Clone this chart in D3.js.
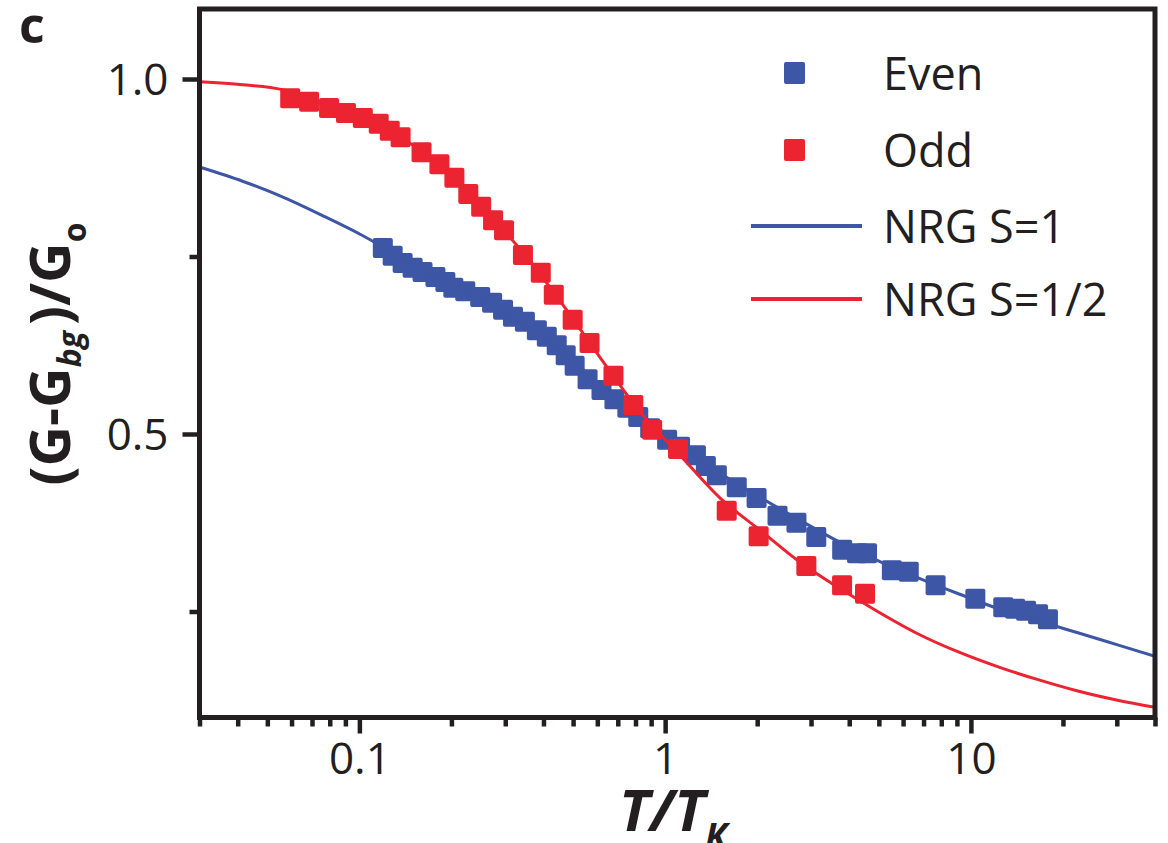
<!DOCTYPE html>
<html>
<head>
<meta charset="utf-8">
<script src="https://cdn.jsdelivr.net/npm/d3@7"></script>
<style>
  html, body { margin: 0; padding: 0; background: #fff; }
  svg text { font-family: "Open Sans", "Noto Sans", sans-serif; fill: #231f20; }
</style>
</head>
<body>
<svg id="chart" width="1168" height="843"></svg>
<script>
// Measured conductance vs. reduced temperature, even and odd electron occupancy
const evenT = [0.1193, 0.1285, 0.1385, 0.1493, 0.1609, 0.1773, 0.1911, 0.2029, 0.222, 0.2484,
  0.2717, 0.2951, 0.3179, 0.3478, 0.3806, 0.4102, 0.442, 0.4729, 0.5059, 0.5576,
  0.6193, 0.6826, 0.7524, 0.8168, 0.8936, 1.015, 1.119, 1.261, 1.359, 1.476,
  1.715, 1.991, 2.331, 2.688, 3.121, 3.793, 4.243, 4.573, 5.514, 6.262,
  7.665, 10.34, 12.76, 13.95, 15.15, 16.58, 17.86];
const evenG = [0.762, 0.751, 0.741, 0.734, 0.728, 0.721, 0.714, 0.706, 0.701, 0.693,
  0.685, 0.675, 0.665, 0.658, 0.646, 0.637, 0.625, 0.611, 0.596, 0.577,
  0.562, 0.549, 0.537, 0.524, 0.508, 0.492, 0.482, 0.470, 0.455, 0.442,
  0.425, 0.410, 0.385, 0.375, 0.355, 0.337, 0.332, 0.332, 0.308, 0.306,
  0.287, 0.268, 0.256, 0.254, 0.251, 0.246, 0.239];

const oddT = [0.0594, 0.0685, 0.0796, 0.0904, 0.1026, 0.1157, 0.1257, 0.1364, 0.1597, 0.1827,
  0.2045, 0.2271, 0.2502, 0.2737, 0.2973, 0.3427, 0.392, 0.4323, 0.4985, 0.566,
  0.6776, 0.787, 0.907, 1.102, 1.59, 2.022, 2.896, 3.79, 4.505];
const oddG = [0.973, 0.968, 0.959, 0.952, 0.945, 0.937, 0.927, 0.918, 0.897, 0.880,
  0.861, 0.838, 0.820, 0.801, 0.787, 0.752, 0.727, 0.696, 0.661, 0.628,
  0.582, 0.541, 0.506, 0.479, 0.392, 0.356, 0.314, 0.287, 0.275];

// NRG curves on a shared temperature grid
const nrgT = [0.03, 0.0415, 0.056, 0.0755, 0.102, 0.1375, 0.1854, 0.25, 0.3377, 0.4556,
  0.6146, 0.8293, 1.119, 1.51, 2.037, 2.748, 3.707, 5.0, 6.75, 9.1,
  12.28, 16.58, 22.37, 30.18, 40];
const nrgS1 = [0.876, 0.856, 0.834, 0.808, 0.780, 0.748, 0.717, 0.689, 0.656, 0.618,
  0.569, 0.528, 0.485, 0.445, 0.411, 0.379, 0.348, 0.321, 0.297, 0.275,
  0.254, 0.237, 0.220, 0.203, 0.187];
const nrgHalf = [0.996, 0.992, 0.985, 0.965, 0.945, 0.917, 0.877, 0.820, 0.759, 0.686,
  0.607, 0.531, 0.470, 0.410, 0.365, 0.320, 0.283, 0.249, 0.218, 0.193,
  0.172, 0.154, 0.138, 0.125, 0.115];

// Axis ticks
const xMajorTicks = [0.1, 1, 10];
const xMajorLabels = ["0.1", "1", "10"];
const xMinorTicks = [0.03, 0.04, 0.05, 0.06, 0.07, 0.08, 0.09,
  0.2, 0.3, 0.4, 0.5, 0.6, 0.7, 0.8, 0.9,
  2, 3, 4, 5, 6, 7, 8, 9, 20, 30, 40];
const yMajorTicks = [0.5, 1.0];
const yMajorLabels = ["0.5", "1.0"];
const yMinorTicks = [0.25, 0.75];

const legendLabels = ["Even", "Odd", "NRG S=1", "NRG S=1/2"];

const BLUE = "#3d56a5";
const RED = "#ec2330";
const INK = "#231f20";

const svg = d3.select("#chart");
const frameL = 199.5, frameR = 1155, frameT = 9, frameB = 717.5;

const x = d3.scaleLog().domain([0.03, 40]).range([frameL, frameR]);
const y = d3.scaleLinear().domain([0.1, 1.1]).range([718, 8]);

svg.append("defs").append("clipPath").attr("id", "plotClip")
  .append("rect").attr("x", frameL).attr("y", frameT)
  .attr("width", frameR - frameL).attr("height", frameB - frameT);

const plot = svg.append("g").attr("clip-path", "url(#plotClip)");

const line = d3.line()
  .x(d => x(d[0]))
  .y(d => y(d[1]))
  .curve(d3.curveMonotoneX);

const SQ = 20;
function squares(T, G, color) {
  plot.append("g").selectAll("rect")
    .data(d3.zip(T, G))
    .join("rect")
    .attr("x", d => x(d[0]) - SQ / 2)
    .attr("y", d => y(d[1]) - SQ / 2)
    .attr("width", SQ).attr("height", SQ)
    .attr("rx", 2)
    .attr("fill", color);
}

squares(evenT, evenG, BLUE);
plot.append("path").datum(d3.zip(nrgT, nrgS1))
  .attr("d", line).attr("fill", "none").attr("stroke", BLUE).attr("stroke-width", 3);
squares(oddT, oddG, RED);
plot.append("path").datum(d3.zip(nrgT, nrgHalf))
  .attr("d", line).attr("fill", "none").attr("stroke", RED).attr("stroke-width", 3);

// X axis ticks and labels
const xAxisMinor = d3.axisBottom(x).tickValues(xMinorTicks).tickSize(9).tickFormat("");
const xAxisMajor = d3.axisBottom(x).tickValues(xMajorTicks).tickSize(16)
  .tickFormat((d, i) => xMajorLabels[i]);
[xAxisMinor, xAxisMajor].forEach(ax => {
  const g = svg.append("g").attr("transform", `translate(0,${frameB})`).call(ax);
  g.select(".domain").remove();
  g.selectAll(".tick line").attr("stroke", INK).attr("stroke-width", 4.5);
  g.selectAll(".tick text").attr("font-size", 44)
    .attr("dy", null).attr("y", 56).attr("fill", INK);
});

// Y axis ticks and labels
const yAxisMinor = d3.axisLeft(y).tickValues(yMinorTicks).tickSize(10).tickFormat("");
const yAxisMajor = d3.axisLeft(y).tickValues(yMajorTicks).tickSize(17)
  .tickFormat((d, i) => yMajorLabels[i]).tickPadding(14);
[yAxisMinor, yAxisMajor].forEach(ax => {
  const g = svg.append("g").attr("transform", `translate(${frameL},0)`).call(ax);
  g.select(".domain").remove();
  g.selectAll(".tick line").attr("stroke", INK).attr("stroke-width", 4.5);
  g.selectAll(".tick text").attr("font-size", 44)
    .attr("dy", "0.36em").attr("fill", INK);
});
svg.selectAll("g[font-family]").attr("font-family", null);

// Frame
svg.append("rect")
  .attr("x", frameL).attr("y", frameT)
  .attr("width", frameR - frameL).attr("height", frameB - frameT)
  .attr("fill", "none").attr("stroke", INK).attr("stroke-width", 5);

// Legend
const legend = svg.append("g");
const legendRows = [
  { label: legendLabels[0], color: BLUE, kind: "square", cy: 73 },
  { label: legendLabels[1], color: RED, kind: "square", cy: 150 },
  { label: legendLabels[2], color: BLUE, kind: "line", cy: 226 },
  { label: legendLabels[3], color: RED, kind: "line", cy: 299 }
];
legendRows.forEach(r => {
  if (r.kind === "square") {
    legend.append("rect").attr("x", 784).attr("y", r.cy - 11).attr("width", 21).attr("height", 22)
      .attr("rx", 2).attr("fill", r.color);
  } else {
    legend.append("line").attr("x1", 751).attr("x2", 862).attr("y1", r.cy).attr("y2", r.cy)
      .attr("stroke", r.color).attr("stroke-width", 4);
  }
  legend.append("text").attr("x", 883).attr("y", r.cy + 17)
    .attr("font-size", 45).text(r.label);
});

// Panel letter
svg.append("text").attr("x", 19).attr("y", 43)
  .attr("font-size", 50).attr("font-weight", "bold").text("c");

// X axis title
const xt = svg.append("text").attr("x", 619).attr("y", 831)
  .attr("font-size", 58).attr("font-weight", "bold").attr("font-style", "italic");
xt.append("tspan").text("T/T");
xt.append("tspan").attr("font-size", 36).attr("dy", 18).text("K");

// Y axis title
const yt = svg.append("text")
  .attr("transform", "translate(70,354) rotate(-90)")
  .attr("text-anchor", "middle")
  .attr("font-size", 56).attr("font-weight", "bold");
yt.append("tspan").text("(G-G");
yt.append("tspan").attr("font-size", 32).attr("font-style", "italic").attr("dy", 11).text("bg");
yt.append("tspan").attr("dy", -11).attr("dx", 6).text(")/G");
yt.append("tspan").attr("font-size", 32).attr("dy", 16).text("o");
</script>
</body>
</html>
